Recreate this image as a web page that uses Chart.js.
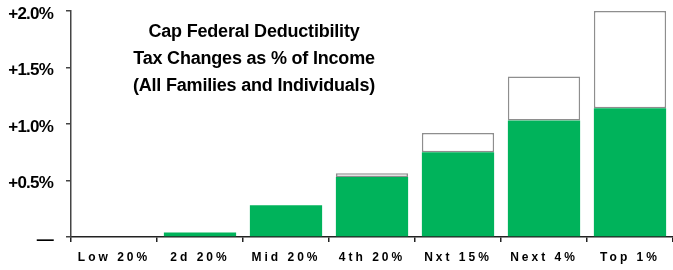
<!DOCTYPE html>
<html>
<head>
<meta charset="utf-8">
<script src="https://cdn.jsdelivr.net/npm/chart.js@4/dist/chart.umd.min.js"></script>
<style>
  html, body { margin: 0; padding: 0; background: #fff; }
  #wrap { width: 673px; height: 270px; }
</style>
</head>
<body>
<div id="wrap"><canvas id="myChart" width="673" height="270"></canvas></div>
<script>
// chart data
const groups = ['Low 20%', '2d 20%', 'Mid 20%', '4th 20%', 'Nxt 15%', 'Next 4%', 'Top 1%'];
const greenPart = [0, 0.04, 0.28, 0.53, 0.75, 1.03, 1.14];
const whitePart = [0, 0, 0, 0.035, 0.17, 0.39, 0.86];
const yTicks = [0, 0.5, 1.0, 1.5, 2.0];
const titleLines = ['Cap Federal Deductibility', 'Tax Changes as % of Income', '(All Families and Individuals)'];

const ctx = document.getElementById('myChart').getContext('2d');
const fontFam = '"Liberation Sans", Arial, sans-serif';

// spacing tricks: tight y labels, wide x labels (x labels drawn after datasets, z=1)
const spacingPlugin = {
  id: 'spacing',
  beforeDraw(chart) {
    chart.ctx.letterSpacing = '-0.8px';
  },
  afterDatasetsDraw(chart) {
    chart.ctx.letterSpacing = '3px';
  },
  afterDraw(chart) {
    const c = chart.ctx;
    c.save();
    c.letterSpacing = '-0.2px';
    c.fillStyle = '#000';
    c.font = 'bold 18px ' + fontFam;
    c.textAlign = 'center';
    c.textBaseline = 'alphabetic';
    titleLines.forEach((t, i) => {
      c.fillText(t, 254, 37 + i * 27);
    });
    c.restore();
    c.letterSpacing = '0px';
  }
};

new Chart(ctx, {
  type: 'bar',
  data: {
    labels: groups,
    datasets: [{
      label: 'green',
      data: greenPart,
      backgroundColor: '#00B35B',
      borderWidth: 0,
      barPercentage: 0.84,
      categoryPercentage: 1.0
    }, {
      label: 'white',
      data: whitePart,
      backgroundColor: '#ffffff',
      borderColor: '#8e8e8e',
      borderWidth: 1.5,
      borderSkipped: false,
      barPercentage: 0.84,
      categoryPercentage: 1.0
    }]
  },
  options: {
    responsive: false,
    animation: false,
    layout: { padding: { top: 11, left: 0, right: 0, bottom: 0 } },
    plugins: { legend: { display: false }, tooltip: { enabled: false } },
    scales: {
      x: {
        stacked: true,
        afterFit(scale) {
          scale.height = 33;
          scale.paddingLeft = 0;
          scale.paddingRight = 0;
        },
        grid: {
          offset: true,
          drawOnChartArea: false,
          drawTicks: true,
          tickLength: 5,
          color: '#222',
          lineWidth: 1.5
        },
        border: { display: true, color: '#222', width: 1.5 },
        ticks: {
          z: 1,
          color: '#000',
          padding: 8,
          maxRotation: 0,
          font: { family: fontFam, size: 12, weight: 'bold' }
        }
      },
      y: {
        stacked: true,
        min: 0,
        max: 2,
        afterFit(scale) {
          scale.width = 71;
          scale.paddingTop = 0;
          scale.paddingBottom = 0;
        },
        afterBuildTicks(scale) {
          scale.ticks = yTicks.map(v => ({ value: v }));
        },
        grid: {
          drawOnChartArea: false,
          drawTicks: true,
          tickLength: 5,
          color: '#444',
          lineWidth: 1.5
        },
        border: { display: true, color: '#444', width: 1.5 },
        ticks: {
          color: '#000',
          padding: 13,
          labelOffset: 3,
          font: { family: fontFam, size: 17, weight: 'bold' },
          callback: v => v === 0 ? '\u2014' : '+' + v.toFixed(1) + '%'
        }
      }
    }
  },
  plugins: [spacingPlugin]
});
</script>
</body>
</html>
